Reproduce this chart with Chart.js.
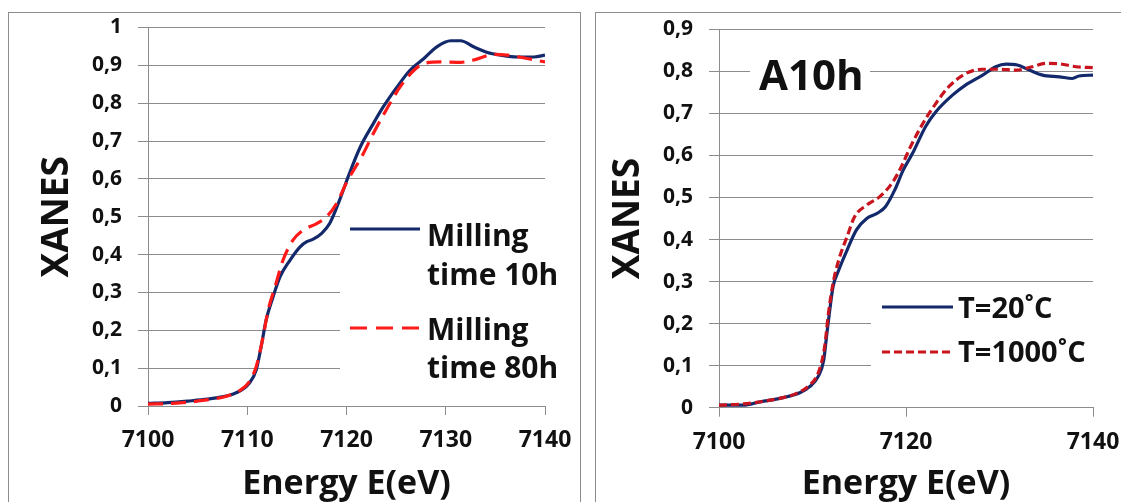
<!DOCTYPE html>
<html>
<head>
<meta charset="utf-8">
<script src="https://cdn.jsdelivr.net/npm/chart.js@4.4.1/dist/chart.umd.min.js"></script>
<style>
  body { margin: 0; background: #fff; width: 1121px; height: 502px; overflow: hidden; position: relative; font-family: "Open Sans", sans-serif; }
  .panel { position: absolute; top: 12px; height: 500px; border: 1px solid #8c8c8c; border-bottom: none; }
  canvas { position: absolute; top: 0; }
  .box { position: absolute; background: #fff; }
  .entry { position: absolute; white-space: nowrap; color: #111; font-weight: bold; }
  svg.sample { position: absolute; overflow: visible; }
</style>
</head>
<body>
  <div class="panel" style="left:8px;width:571px"></div>
  <div class="panel" style="left:595px;width:540px"></div>

  <canvas id="millingChart" width="590" height="502" style="left:0;width:590px;height:502px"></canvas>
  <canvas id="tempChart" width="531" height="502" style="left:590px;width:531px;height:502px"></canvas>

  <!-- left legend -->
  <div class="box" style="left:340px;top:205px;width:210px;height:190px"></div>
  <svg class="sample" style="left:350px;top:224px" width="70" height="10">
    <line x1="0" y1="5" x2="70" y2="5" stroke="#13296b" stroke-width="3.2"/>
  </svg>
  <div class="entry" style="left:427px;top:216.3px;font-size:30px;line-height:38.3px">Milling<br>time 10h</div>
  <svg class="sample" style="left:350px;top:323px" width="70" height="10">
    <line x1="0" y1="5" x2="69" y2="5" stroke="#ff1a1a" stroke-width="3.2" stroke-dasharray="17 9"/>
  </svg>
  <div class="entry" style="left:427px;top:309.6px;font-size:30px;line-height:38.3px">Milling<br>time 80h</div>

  <!-- right annotation + legend -->
  <div class="box" style="left:750px;top:56px;width:120px;height:40px"></div>
  <div class="entry" style="left:759px;top:52.7px;font-size:42px;line-height:42px">A10h</div>
  <div class="box" style="left:871px;top:290px;width:230px;height:95px"></div>
  <svg class="sample" style="left:882px;top:302px" width="71" height="10">
    <line x1="0" y1="5" x2="71" y2="5" stroke="#13296b" stroke-width="3.2"/>
  </svg>
  <div class="entry" style="left:958px;top:292.3px;font-size:29px;line-height:30px">T=20˚C</div>
  <svg class="sample" style="left:882px;top:347px" width="71" height="10">
    <line x1="0" y1="5" x2="71" y2="5" stroke="#c8141e" stroke-width="3.2" stroke-dasharray="8 4"/>
  </svg>
  <div class="entry" style="left:958px;top:336px;font-size:29px;line-height:30px">T=1000˚C</div>

<script>
  // left panel: milling time
  const energy10h = [7100, 7102, 7104, 7106, 7107.6, 7108.6, 7109.4, 7110.2, 7110.9, 7111.4, 7111.9, 7112.6, 7113.3, 7114.3, 7115.3, 7116, 7116.6, 7117.5, 7118.3, 7119.3, 7120.3, 7121.4, 7122.7, 7123.7, 7125.1, 7126.4, 7127.8, 7129.1, 7130.5, 7131.5, 7132.8, 7134.2, 7135.5, 7137.2, 7138.9, 7140];
  const xanes10h = [0.007, 0.009, 0.013, 0.018, 0.025, 0.032, 0.042, 0.06, 0.095, 0.157, 0.227, 0.288, 0.341, 0.385, 0.42, 0.434, 0.44, 0.456, 0.482, 0.544, 0.615, 0.685, 0.746, 0.79, 0.843, 0.887, 0.918, 0.949, 0.965, 0.965, 0.949, 0.934, 0.927, 0.922, 0.922, 0.927];
  const energy80h = [7100, 7102.5, 7105.9, 7107.9, 7109.2, 7110.2, 7110.9, 7111.6, 7112.1, 7112.8, 7113.6, 7114.6, 7115.6, 7117, 7118, 7119, 7120, 7121.7, 7122.7, 7124, 7125.4, 7126.8, 7127.8, 7129.5, 7131.5, 7132.8, 7134.9, 7136.2, 7138.2, 7140];
  const xanes80h = [0.005, 0.007, 0.016, 0.026, 0.04, 0.064, 0.104, 0.183, 0.253, 0.315, 0.385, 0.438, 0.464, 0.482, 0.5, 0.535, 0.59, 0.667, 0.72, 0.782, 0.843, 0.887, 0.905, 0.909, 0.908, 0.914, 0.929, 0.927, 0.918, 0.909];

  // right panel: A10h, annealing temperature
  const energy20C = [7100, 7102.6, 7104.4, 7106.9, 7108.7, 7109.7, 7110.6, 7111.2, 7111.5, 7111.8, 7112.2, 7112.8, 7113.7, 7114.7, 7115.8, 7116.9, 7117.8, 7118.8, 7119.7, 7120.7, 7122.1, 7123.2, 7125, 7126.4, 7128.2, 7129.6, 7130.7, 7131.9, 7133.2, 7134.6, 7136.4, 7137.8, 7138.5, 7140];
  const xanes20C = [0.006, 0.006, 0.014, 0.024, 0.036, 0.05, 0.074, 0.113, 0.169, 0.224, 0.288, 0.327, 0.375, 0.423, 0.45, 0.462, 0.478, 0.518, 0.565, 0.605, 0.669, 0.704, 0.744, 0.768, 0.791, 0.811, 0.817, 0.815, 0.803, 0.791, 0.787, 0.783, 0.789, 0.791];
  const energy1000C = [7100, 7102.6, 7105.5, 7108.3, 7109.7, 7110.6, 7111.3, 7111.7, 7112.2, 7112.8, 7113.7, 7114.5, 7115.8, 7117.2, 7118.5, 7119.5, 7120.4, 7121.8, 7123.2, 7124.6, 7126.4, 7128.2, 7130, 7131.8, 7133.5, 7135, 7136.4, 7138.2, 7140];
  const xanes1000C = [0.006, 0.009, 0.018, 0.034, 0.054, 0.082, 0.145, 0.224, 0.296, 0.351, 0.407, 0.454, 0.482, 0.502, 0.534, 0.573, 0.617, 0.676, 0.724, 0.764, 0.795, 0.805, 0.805, 0.803, 0.811, 0.819, 0.818, 0.811, 0.809];

  const GRID = "#8c8c8c";
  const INK = "#111";

  function points(xs, ys) {
    return xs.map((x, i) => ({ x: x, y: ys[i] }));
  }

  function yLabel(v) {
    if (v === 0 || v === 1) return String(v);
    return v.toFixed(1).replace(".", ",");
  }

  function renderXanes(canvasId, datasets, opts) {
    const ctx = document.getElementById(canvasId).getContext("2d");
    new Chart(ctx, {
      type: "line",
      data: { datasets: datasets },
      options: {
        responsive: false,
        animation: false,
        layout: { padding: opts.padding },
        plugins: { legend: { display: false }, tooltip: { enabled: false } },
        elements: { point: { radius: 0 } },
        scales: {
          x: {
            type: "linear",
            min: 7100,
            max: 7140,
            ticks: { stepSize: opts.xStep, color: INK, padding: 12, callback: v => String(v), font: { family: "Open Sans", size: 23, weight: "bold" } },
            grid: { drawOnChartArea: false, drawTicks: true, tickLength: 9, color: GRID },
            border: { color: GRID },
            title: { display: true, text: "Energy E(eV)", color: INK, padding: { top: 0, bottom: 1 }, font: { family: "Open Sans", size: 34, weight: "bold", lineHeight: 1 } },
            afterFit: s => { s.height = opts.xHeight; s.paddingLeft = 0; s.paddingRight = 0; }
          },
          y: {
            min: 0,
            max: opts.yMax,
            ticks: { stepSize: 0.1, color: INK, padding: 16, callback: yLabel, font: { family: "Open Sans", size: 21, weight: "bold" } },
            grid: { color: GRID, tickLength: 10 },
            border: { color: GRID },
            title: { display: true, text: "XANES", color: INK, padding: 0, font: { family: "Open Sans", size: 37, weight: "bold", lineHeight: 1 } },
            afterFit: s => { s.width = opts.yWidth; s.paddingTop = 0; s.paddingBottom = 0; }
          }
        }
      }
    });
  }

  renderXanes("millingChart", [
    { label: "Milling time 10h", data: points(energy10h, xanes10h), borderColor: "#13296b", borderWidth: 3.2, cubicInterpolationMode: "monotone", order: 2 },
    { label: "Milling time 80h", data: points(energy80h, xanes80h), borderColor: "#ff1a1a", borderWidth: 3.2, borderDash: [15, 8], cubicInterpolationMode: "monotone", order: 1 }
  ], { padding: { left: 39, right: 45, top: 27.5, bottom: 0 }, xStep: 10, yMax: 1, xHeight: 96, yWidth: 109 });

  renderXanes("tempChart", [
    { label: "T=20˚C", data: points(energy20C, xanes20C), borderColor: "#13296b", borderWidth: 3.2, cubicInterpolationMode: "monotone", order: 2 },
    { label: "T=1000˚C", data: points(energy1000C, xanes1000C), borderColor: "#c8141e", borderWidth: 3.2, borderDash: [8, 4], cubicInterpolationMode: "monotone", order: 1 }
  ], { padding: { left: 19.5, right: 28, top: 29.3, bottom: 0 }, xStep: 20, yMax: 0.9, xHeight: 94.3, yWidth: 109.5 });
</script>
</body>
</html>
